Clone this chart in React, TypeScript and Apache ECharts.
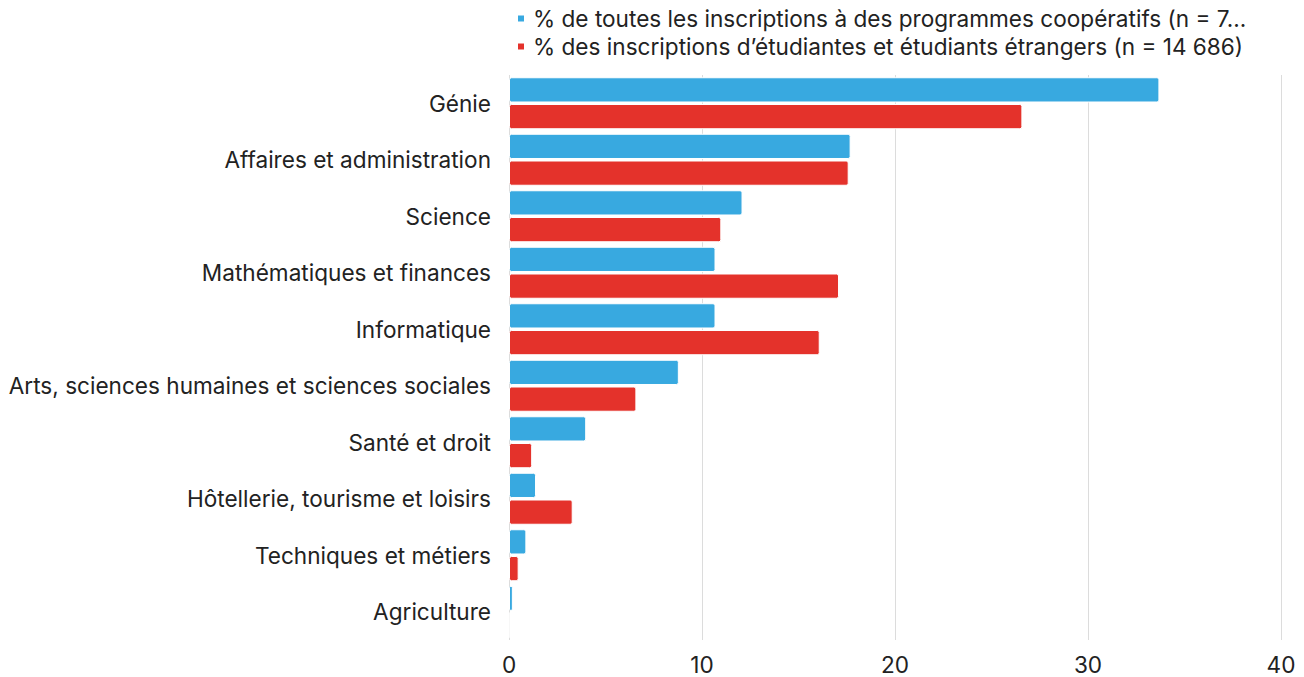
import React, { useEffect, useRef } from "react";
import * as echarts from "echarts";

const categories = [
  "Génie",
  "Affaires et administration",
  "Science",
  "Mathématiques et finances",
  "Informatique",
  "Arts, sciences humaines et sciences sociales",
  "Santé et droit",
  "Hôtellerie, tourisme et loisirs",
  "Techniques et métiers",
  "Agriculture",
];
const coopValues = [33.7, 17.7, 12.1, 10.7, 10.7, 8.8, 4.0, 1.4, 0.9, 0.2];
const intlValues = [26.6, 17.6, 11.0, 17.1, 16.1, 6.6, 1.2, 3.3, 0.5, 0];
const seriesNames = [
  "% de toutes les inscriptions à des programmes coopératifs (n = 76 955)",
  "% des inscriptions d’étudiantes et étudiants étrangers (n = 14 686)",
];
const xTicks = [0, 10, 20, 30, 40];

const FONT = "Inter, 'Open Sans', sans-serif";
const FS = 22.6;

export default function App() {
  const ref = useRef<HTMLDivElement>(null);
  useEffect(() => {
    document.body.style.margin = "0";
    document.body.style.overflow = "hidden";
    if (!ref.current) return;
    const chart = echarts.init(ref.current, null, { renderer: "svg" });
    chart.setOption({
      animation: false,
      textStyle: { fontFamily: FONT },
      legend: {
        orient: "vertical",
        left: 511,
        top: 2,
        itemWidth: 8,
        itemHeight: 8,
        itemGap: 5,
        icon: "rect",
        textStyle: {
          fontFamily: FONT,
          fontSize: FS,
          color: "#222",
          width: 730,
          overflow: "truncate",
          ellipsis: "...",
          padding: [0, 0, 0, 3],
        },
        data: seriesNames,
      },
      grid: { left: 509, right: 23, top: 75, bottom: 37, containLabel: false },
      xAxis: {
        type: "value",
        min: xTicks[0],
        max: xTicks[xTicks.length - 1],
        interval: 10,
        axisLine: { show: false },
        axisTick: { show: false },
        splitLine: { show: true, lineStyle: { color: "#dcdcdc", width: 1 } },
        axisLabel: { fontFamily: FONT, fontSize: FS, color: "#222", margin: 13 },
      },
      yAxis: {
        type: "category",
        inverse: true,
        data: categories,
        axisLine: { show: false },
        axisTick: { show: false },
        axisLabel: { fontFamily: FONT, fontSize: FS, color: "#222", margin: 18 },
      },
      series: [
        {
          name: seriesNames[0],
          type: "bar",
          data: coopValues,
          barGap: "6%",
          barCategoryGap: "8%",
          itemStyle: { color: "#38a9e0", borderColor: "#fff", borderWidth: 1, borderRadius: 2 },
        },
        {
          name: seriesNames[1],
          type: "bar",
          data: intlValues,
          itemStyle: { color: "#e4322b", borderColor: "#fff", borderWidth: 1, borderRadius: 2 },
        },
      ],
    });
    return () => chart.dispose();
  }, []);
  return <div ref={ref} style={{ width: 1304, height: 677 }} />;
}
